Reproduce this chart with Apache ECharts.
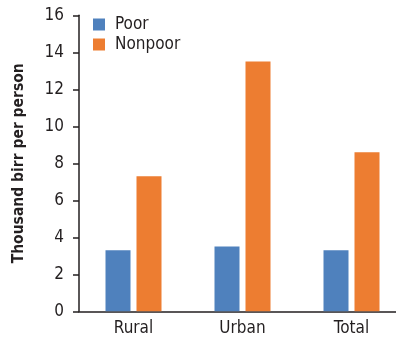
<!DOCTYPE html>
<html>
<head>
<meta charset="utf-8">
<style>
  html, body { margin: 0; padding: 0; background: #fff; }
  #chart { width: 396px; height: 341px; }
</style>
<script src="https://cdn.jsdelivr.net/npm/echarts@6/dist/echarts.min.js"></script>
</head>
<body>
<div id="chart"></div>
<script>
// Consumption per person by area, in thousand birr
const categories = ['Rural', 'Urban', 'Total'];
const poor = [3.3, 3.5, 3.3];
const nonpoor = [7.3, 13.5, 8.6];
const yTicks = [0, 2, 4, 6, 8, 10, 12, 14, 16];

const FONT = '"DejaVu Sans Condensed", "Liberation Sans Narrow", "Liberation Sans", sans-serif';
const INK = '#231f20';

const chart = echarts.init(document.getElementById('chart'), null, { renderer: 'canvas' });
chart.setOption({
  animation: false,
  textStyle: { fontFamily: FONT },
  legend: {
    left: 93,
    top: 16,
    padding: 0,
    orient: 'vertical',
    itemWidth: 12,
    itemHeight: 12,
    itemGap: 3,
    icon: 'rect',
    textStyle: { fontFamily: FONT, fontSize: 17, lineHeight: 17, color: INK, padding: [0, 0, 0, 5] },
    data: ['Poor', 'Nonpoor']
  },
  grid: {
    left: 79, right: -10, top: 15.3, bottom: 29.7,
    containLabel: false,
    outerBoundsMode: 'none'
  },
  xAxis: {
    type: 'category',
    data: categories,
    axisLine: { lineStyle: { color: INK, width: 1.5 } },
    axisTick: { show: false },
    axisLabel: { fontFamily: FONT, fontSize: 17, color: INK, margin: 9 }
  },
  yAxis: {
    type: 'value',
    min: yTicks[0],
    max: yTicks[yTicks.length - 1],
    interval: yTicks[1] - yTicks[0],
    name: 'Thousand birr per person',
    nameLocation: 'middle',
    nameGap: 52,
    nameTextStyle: { fontFamily: FONT, fontSize: 15.5, fontWeight: 'bold', color: INK },
    axisLine: { show: true, lineStyle: { color: INK, width: 1.5 } },
    axisTick: { show: true, length: 6, lineStyle: { color: INK, width: 1.5 } },
    axisLabel: { fontFamily: FONT, fontSize: 17, color: INK, margin: 15 },
    splitLine: { show: false }
  },
  series: [
    {
      name: 'Poor',
      type: 'bar',
      data: poor,
      barWidth: 25,
      barGap: '24%',
      itemStyle: { color: '#4f81bd' }
    },
    {
      name: 'Nonpoor',
      type: 'bar',
      data: nonpoor,
      barWidth: 25,
      barGap: '24%',
      itemStyle: { color: '#ed7d31' }
    }
  ]
});
</script>
</body>
</html>
